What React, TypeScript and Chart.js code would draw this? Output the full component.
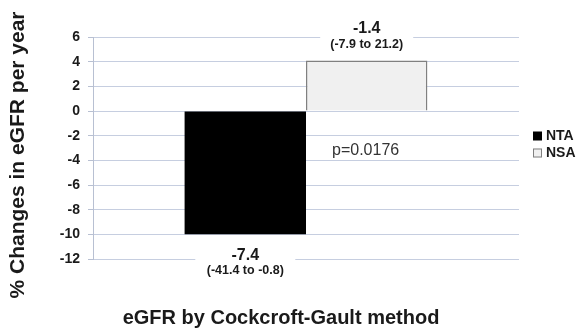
import React, { useEffect, useRef } from "react";
import { Chart, registerables } from "chart.js";

Chart.register(...registerables);

const categories = ["eGFR by Cockcroft-Gault method"];
const seriesNames = ["NTA", "NSA"];
const ntaValues = [-10];
const nsaValues = [4.1];
const mainLabels = ["-7.4", "-1.4"];
const rangeLabels = ["(-41.4 to -0.8)", "(-7.9 to 21.2)"];
const pValueText = "p=0.0176";
const yTitle = "% Changes in eGFR per year";
const xTitle = "eGFR by Cockcroft-Gault method";

const FONT = "'Liberation Sans', Arial, sans-serif";

const annotatePlugin = {
  id: "annotate",
  afterDatasetsDraw(chart: any) {
    const ctx = chart.ctx;
    const y = chart.scales.y;
    const area = chart.chartArea;
    ctx.save();
    const anchors = [-12, 6];
    const offMain = [-3, -8];
    const offRange = [12, 8];
    const boxW = [100, 93];
    for (let i = 0; i < 2; i++) {
      const bar = chart.getDatasetMeta(i).data[0];
      const cx = bar.x;
      const ay = y.getPixelForValue(anchors[i]);
      ctx.fillStyle = "#ffffff";
      ctx.fillRect(cx - boxW[i] / 2, ay - 4, boxW[i], 8);
      ctx.fillStyle = "#1a1a1a";
      ctx.textAlign = "center";
      ctx.textBaseline = "middle";
      ctx.font = `bold 16px ${FONT}`;
      ctx.fillText(mainLabels[i], cx, ay + offMain[i]);
      ctx.font = `bold 12.5px ${FONT}`;
      ctx.fillText(rangeLabels[i], cx, ay + offRange[i]);
    }
    const nsaBar = chart.getDatasetMeta(1).data[0];
    const left = nsaBar.x - nsaBar.width / 2;
    ctx.font = `16px ${FONT}`;
    ctx.textAlign = "left";
    ctx.fillStyle = "#333333";
    ctx.fillText(pValueText, left + 26, y.getPixelForValue(-3.2));

    const colors = ["#000000", "#f0f0f0"];
    const legendY = [136, 153];
    ctx.font = `bold 14px ${FONT}`;
    for (let i = 0; i < 2; i++) {
      ctx.fillStyle = colors[i];
      ctx.fillRect(533, legendY[i] - 4.5, 9, 9);
      if (i === 1) {
        ctx.strokeStyle = "#808080";
        ctx.lineWidth = 1;
        ctx.strokeRect(533.5, legendY[i] - 4, 8, 8);
      }
      ctx.fillStyle = "#1a1a1a";
      ctx.textAlign = "left";
      ctx.fillText(seriesNames[i], 546, legendY[i] + 0.5);
    }

    ctx.fillStyle = "#1a1a1a";
    ctx.font = `bold 20px ${FONT}`;
    ctx.textAlign = "center";
    ctx.fillText(xTitle, (area.left + area.right) / 2 - 25, 318);
    ctx.save();
    ctx.translate(18, 155);
    ctx.rotate(-Math.PI / 2);
    ctx.font = `bold 21px ${FONT}`;
    ctx.fillText(yTitle, 0, 0);
    ctx.restore();
    ctx.restore();
  },
};

export default function App() {
  const ref = useRef<HTMLCanvasElement>(null);
  useEffect(() => {
    if (!ref.current) return;
    const chart = new Chart(ref.current, {
      type: "bar",
      data: {
        labels: categories,
        datasets: [
          {
            label: seriesNames[0],
            data: ntaValues,
            backgroundColor: "#000000",
            borderWidth: 0,
          },
          {
            label: seriesNames[1],
            data: nsaValues,
            backgroundColor: "#f0f0f0",
            borderColor: "#808080",
            borderWidth: 1.5,
          },
        ],
      },
      options: {
        animation: false,
        responsive: false,
        layout: { padding: { left: 0, right: 62, top: 37, bottom: 76 } },
        datasets: { bar: { categoryPercentage: 0.57, barPercentage: 1 } },
        plugins: { legend: { display: false }, tooltip: { enabled: false } },
        scales: {
          x: { display: false },
          y: {
            min: -12,
            max: 6,
            afterFit: (s: any) => {
              s.width = 93;
            },
            ticks: {
              stepSize: 2,
              padding: 8,
              color: "#1a1a1a",
              font: { family: FONT, size: 14, weight: "bold" },
            },
            grid: { color: "#c6cee0", lineWidth: 1, tickLength: 5, tickColor: "#b8c0d2" },
            border: { color: "#b8c0d2", width: 1 },
          },
        },
      },
      plugins: [annotatePlugin],
    });
    return () => chart.destroy();
  }, []);
  return (
    <div style={{ position: "absolute", left: 0, top: 0, width: 581, height: 335, background: "#fff" }}>
      <canvas ref={ref} width={581} height={335} />
    </div>
  );
}
